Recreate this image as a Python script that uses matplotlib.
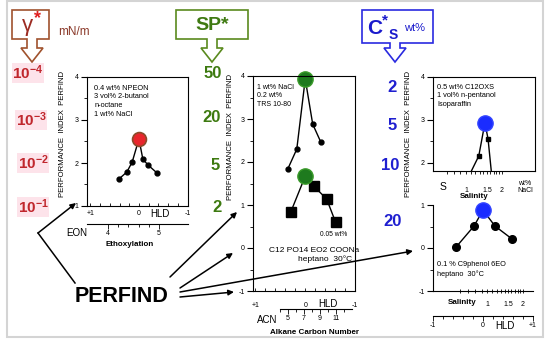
import numpy as np
import matplotlib.pyplot as plt
from matplotlib.patches import Polygon, Rectangle

plt.rcParams['font.family'] = ['Liberation Sans', 'DejaVu Sans']
plt.rcParams['axes.unicode_minus'] = False
plt.rcParams['mathtext.fontset'] = 'custom'
plt.rcParams['mathtext.rm'] = 'Liberation Sans'
plt.rcParams['mathtext.bf'] = 'Liberation Sans:bold'

# left panel : ethoxylation scan (HLD)
left_hld = [0.41, 0.25, 0.14, 0.0, -0.08, -0.19, -0.37]
left_pi = [1.63, 1.79, 2.02, 2.56, 2.09, 1.95, 1.77]

# middle panel : alkane carbon number scan (HLD)
mid_hld_a = [0.35, 0.17, 0.0, -0.15, -0.31]
mid_pi_a = [1.84, 2.30, 3.93, 2.88, 2.47]
mid_hld_b = [0.29, 0.0, -0.17, -0.43, -0.61]
mid_pi_b = [0.84, 1.67, 1.44, 1.14, 0.60]

# right upper panel : salinity scan (wt% NaCl)
sal_a = [1.04, 1.28, 1.44, 1.53, 1.65]
sal_pi_a = [1.65, 2.16, 2.93, 2.56, 1.65]

# right lower panel : salinity scan (HLD)
right_hld_b = [-0.54, -0.18, 0.0, 0.24, 0.58]
right_pi_b = [0.02, 0.51, 0.88, 0.51, 0.21]

gamma_labels = ['$\\mathbf{10^{-4}}$', '$\\mathbf{10^{-3}}$', '$\\mathbf{10^{-2}}$', '$\\mathbf{10^{-1}}$']
sp_labels = ['50', '20', '5', '2']
cs_labels = ['2', '5', '10', '20']

W, H = 550, 346
fig = plt.figure(figsize=(5.5, 3.46), dpi=100)


def box(x0, y0, x1, y1):
    return [x0 / W, 1 - y1 / H, (x1 - x0) / W, (y1 - y0) / H]


def style_y(ax, major, minor):
    ax.set_yticks(major)
    ax.set_yticks(minor, minor=True)
    ax.tick_params(axis='y', which='major', direction='out', length=4, width=0.8, labelsize=5, pad=2)
    ax.tick_params(axis='y', which='minor', direction='out', length=2, width=0.6)
    for s in ax.spines.values():
        s.set_linewidth(0.8)


def style_hld(ax, labels, pad=3):
    ax.set_xticks([1, 0, -1])
    ax.set_xticklabels(labels)
    ax.set_xticks(np.arange(-1, 1.01, 0.2), minor=True)
    ax.tick_params(axis='x', which='both', direction='in', length=2.5, width=0.6, labelsize=5, pad=pad)


def scale(x0, x1, y, lim, major, labels, minor, log=False):
    s = fig.add_axes(box(x0, y - 4, x1, y))
    s.patch.set_visible(False)
    for k in ['top', 'left', 'right']:
        s.spines[k].set_visible(False)
    s.spines['bottom'].set_linewidth(0.8)
    s.set_yticks([])
    if log:
        s.set_xscale('log')
    s.set_xlim(*lim)
    s.set_xticks(major)
    s.set_xticklabels(labels)
    s.set_xticks(minor, minor=True)
    s.set_xticklabels([], minor=True)
    s.tick_params(axis='x', which='major', direction='out', length=3.5, width=0.6, labelsize=5, pad=1)
    s.tick_params(axis='x', which='minor', direction='out', length=2, width=0.6)
    return s


# ---- left panel
ax1 = fig.add_axes(box(87, 77, 188, 206))
ax1.set_xlim(1.07, -1.01)
ax1.set_ylim(1, 4)
style_y(ax1, [1, 2, 3, 4], [1.5, 2.5, 3.5])
style_hld(ax1, ['+1', '0', '-1'])
ax1.plot(left_hld, left_pi, color='k', lw=1, marker='o', ms=3.5, mfc='k', mec='k')
i = int(np.argmax(left_pi))
ax1.plot(left_hld[i], left_pi[i], 'o', ms=10, mfc='#e8262c', mec='#8b4a2a', mew=1.2)
ax1.text(0.07, 0.94, '0.4 wt% NPEON\n3 vol% 2-butanol\nn-octane\n1 wt% NaCl',
         transform=ax1.transAxes, va='top', ha='left', fontsize=5.3, linespacing=1.35)

scale(87, 188, 224, (3.59, 5.57), [4, 5], ['4', '5'], [4.2, 4.4, 4.6, 4.8])

# ---- middle panel
ax2 = fig.add_axes(box(253, 76, 355, 291))
ax2.set_xlim(1.05, -0.99)
ax2.set_ylim(-1, 4)
style_y(ax2, [-1, 0, 1, 2, 3, 4], [-0.5, 0.5, 1.5, 2.5, 3.5])
style_hld(ax2, ['+1', '0', '-1'], pad=8)
ax2.plot(mid_hld_a, mid_pi_a, color='k', lw=1, marker='o', ms=3.5, mfc='k', mec='k')
ax2.plot(mid_hld_b, mid_pi_b, color='k', lw=1, marker='s', ms=6.5, mfc='k', mec='k')
i = int(np.argmax(mid_pi_a))
ax2.plot(mid_hld_a[i], mid_pi_a[i], 'o', ms=11, mfc='#1e7a1e', mec='#3a9a2a', mew=1, clip_on=False)
i = int(np.argmax(mid_pi_b))
ax2.plot(mid_hld_b[i], mid_pi_b[i], 'o', ms=11, mfc='#1e7a1e', mec='#3a9a2a', mew=1)
ax2.text(0.04, 0.965, '1 wt% NaCl\n0.2 wt%\nTRS 10-80', transform=ax2.transAxes,
         va='top', ha='left', fontsize=5, linespacing=1.3)
ax2.text(0.79, 0.255, '0.05 wt%', transform=ax2.transAxes, ha='center', fontsize=4.8)
ax2.text(0.60, 0.18, 'C12 PO14 EO2 COONa', transform=ax2.transAxes, ha='center', fontsize=6)
ax2.text(0.97, 0.14, 'heptano  30°C', transform=ax2.transAxes, ha='right', fontsize=6)

scale(280, 352, 309, (4, 13), [5, 7, 9, 11], ['5', '7', '9', '11'], [4, 6, 8, 10, 12])

# ---- right upper panel
ax3 = fig.add_axes(box(433, 77, 535, 171))
ax3.set_xscale('log')
ax3.set_xlim(0.53, 3.78)
ax3.set_ylim(1.81, 4)
style_y(ax3, [2, 3, 4], [2.5, 3.5])
ax3.set_xticks([1, 1.5, 2])
ax3.set_xticklabels(['1', '1.5', '2'])
ax3.set_xticks([0.7, 0.8, 0.9, 1.1, 1.2, 1.3, 1.4, 1.6, 1.7, 1.8, 1.9], minor=True)
ax3.set_xticklabels([], minor=True)
ax3.tick_params(axis='x', which='both', direction='out', length=2.5, width=0.6, labelsize=5, pad=9)
ax3.plot(sal_a, sal_pi_a, color='k', lw=1)
ax3.plot(sal_a[1:4:2], sal_pi_a[1:4:2], 's', ms=3.5, color='k')
i = int(np.argmax(sal_pi_a))
ax3.plot(sal_a[i], sal_pi_a[i], 'o', ms=11, mfc='#1a2cff', mec='#3344ff')
ax3.text(0.04, 0.93, '0.5 wt% C12OXS\n1 vol% n-pentanol\nIsoparaffin', transform=ax3.transAxes,
         va='top', ha='left', fontsize=5.3, linespacing=1.35)

# ---- right lower panel
ax4 = fig.add_axes(box(433, 205, 533, 291))
ax4.set_xlim(-1, 1)
ax4.set_ylim(-1, 1)
ax4.spines['top'].set_visible(False)
ax4.spines['right'].set_visible(False)
style_y(ax4, [-1, 0, 1], [-0.5, 0.5])
ax4.set_xticks([])
ax4.plot(right_hld_b, right_pi_b, color='k', lw=1, marker='o', ms=5.5, mfc='k', mec='k')
i = int(np.argmax(right_pi_b))
ax4.plot(right_hld_b[i], right_pi_b[i], 'o', ms=11, mfc='#1a2cff', mec='#3344ff', clip_on=False)
ax4.text(0.04, 0.35, '0.1 % C9phenol 6EO\nheptano  30°C', transform=ax4.transAxes,
         va='top', ha='left', fontsize=5.3, linespacing=1.35)
sal4 = fig.add_axes(box(433, 205, 533, 291))
sal4.patch.set_visible(False)
for s in sal4.spines.values():
    s.set_visible(False)
sal4.set_yticks([])
sal4.set_xscale('log')
sal4.set_xlim(0.354, 2.42)
sal4.set_xticks([1, 1.5, 2])
sal4.set_xticklabels(['1', '1.5', '2'])
sal4.set_xticks([0.6, 0.7, 0.8, 0.9, 1.1, 1.2, 1.3, 1.4, 1.6, 1.7, 1.8, 1.9], minor=True)
sal4.set_xticklabels([], minor=True)
sal4.tick_params(axis='x', which='both', direction='inout', length=3, width=0.6, labelsize=5, pad=6)

scale(433, 533, 316, (-1, 1), [-1, 0, 1], ['-1', '0', '+1'], np.arange(-0.8, 0.81, 0.2))

# ---- overlay for headers, labels and arrows
ov = fig.add_axes([0, 0, 1, 1], zorder=10)
ov.set_xlim(0, W)
ov.set_ylim(H, 0)
ov.axis('off')
ov.patch.set_visible(False)

ov.add_patch(Rectangle((7, 1), 536, 336, fill=False, ec='#d4d4d4', lw=1.5))


def callout(x0, x1, cx, color, y1=39):
    pts = [(x0, 10), (x1, 10), (x1, y1), (cx + 5, y1), (cx + 5, 48), (cx + 11, 48),
           (cx, 62), (cx - 11, 48), (cx - 5, 48), (cx - 5, y1), (x0, y1)]
    ov.add_patch(Polygon(pts, closed=True, fill=True, fc='white', ec=color, lw=1.2))


callout(12, 49, 32, '#a0522d')
ov.text(27, 25, 'γ', color='#9c2b22', fontsize=16, ha='center', va='center')
ov.text(38, 19, '*', color='#e02020', fontsize=13, ha='center', va='center', fontweight='bold')
ov.text(58, 32, 'mN/m', color='#8b3a2a', fontsize=8.5, ha='left', va='center')

callout(176, 248, 212, '#5a8a1e')
ov.text(212, 26, 'SP*', color='#3f7a12', fontsize=14, fontweight='bold', ha='center', va='center')

callout(362, 433, 395, '#2a2ae0', y1=43)
ov.text(375, 28, 'C', color='#1a1acc', fontsize=15, fontweight='bold', ha='center', va='center')
ov.text(385, 20, '*', color='#1a1acc', fontsize=11, fontweight='bold', ha='center', va='center')
ov.text(393, 35, 'S', color='#1a1acc', fontsize=10, fontweight='bold', ha='center', va='center')
ov.text(415, 28, 'wt%', color='#1a1acc', fontsize=8, ha='center', va='center')

for lab, y, x in zip(gamma_labels, [73, 120, 163, 207], [28, 31, 33, 33]):
    ov.text(x, y, lab, color='#c0272d', fontsize=11, ha='center', va='center',
            bbox=dict(fc='#fde3ea', ec='none', pad=0.5))
for lab, y, x in zip(sp_labels, [73, 118, 166, 207], [213, 212, 215, 217]):
    ov.text(x, y, lab, color='#3d7a10', fontsize=12, fontweight='bold', ha='center', va='center')
for lab, y, x in zip(cs_labels, [87, 126, 166, 222], [392, 392, 390, 393]):
    ov.text(x, y, lab, color='#1f1fd0', fontsize=12, fontweight='bold', ha='center', va='center')

ylab = 'PERFORMANCE  INDEX  PERFIND'
ov.text(63, 134, ylab, rotation=90, fontsize=5.6, ha='center', va='center')
ov.text(230, 137, ylab, rotation=90, fontsize=5.6, ha='center', va='center')
ov.text(408, 134, ylab, rotation=90, fontsize=5.6, ha='center', va='center')

ov.text(160, 214, 'HLD', fontsize=7, ha='center', va='center')
ov.text(77, 233, 'EON', fontsize=7, ha='center', va='center')
ov.text(130, 245, 'Ethoxylation', fontsize=5.8, fontweight='bold', ha='center', va='center')

ov.text(328, 304, 'HLD', fontsize=7, ha='center', va='center')
ov.text(267, 320, 'ACN', fontsize=7, ha='center', va='center')
ov.text(314, 332, 'Alkane Carbon Number', fontsize=5.8, fontweight='bold', ha='center', va='center')

ov.text(443, 187, 'S', fontsize=7.5, ha='center', va='center')
ov.text(525, 187, 'wt%\nNaCl', fontsize=5, ha='center', va='center', linespacing=1.1)
ov.text(474, 197, 'Salinity', fontsize=5.8, fontweight='bold', ha='center', va='center')
ov.text(462, 303, 'Salinity', fontsize=5.8, fontweight='bold', ha='center', va='center')
ov.text(505, 326, 'HLD', fontsize=7, ha='center', va='center')

ov.text(122, 296, 'PERFIND', fontsize=15.5, fontweight='bold', ha='center', va='center')

arrow = dict(arrowstyle='-|>', lw=1.1, color='k', mutation_scale=8, shrinkA=0, shrinkB=0)
ov.plot([75, 38], [283, 233], color='k', lw=1.1)
ov.annotate('', xy=(76, 203), xytext=(38, 233), arrowprops=arrow)
ov.annotate('', xy=(237, 212), xytext=(170, 277), arrowprops=arrow)
ov.annotate('', xy=(233, 253), xytext=(180, 288), arrowprops=arrow)
ov.annotate('', xy=(413, 251), xytext=(180, 292), arrowprops=arrow)
ov.annotate('', xy=(234, 292), xytext=(180, 297), arrowprops=arrow)

plt.savefig('out.png', dpi=100)
